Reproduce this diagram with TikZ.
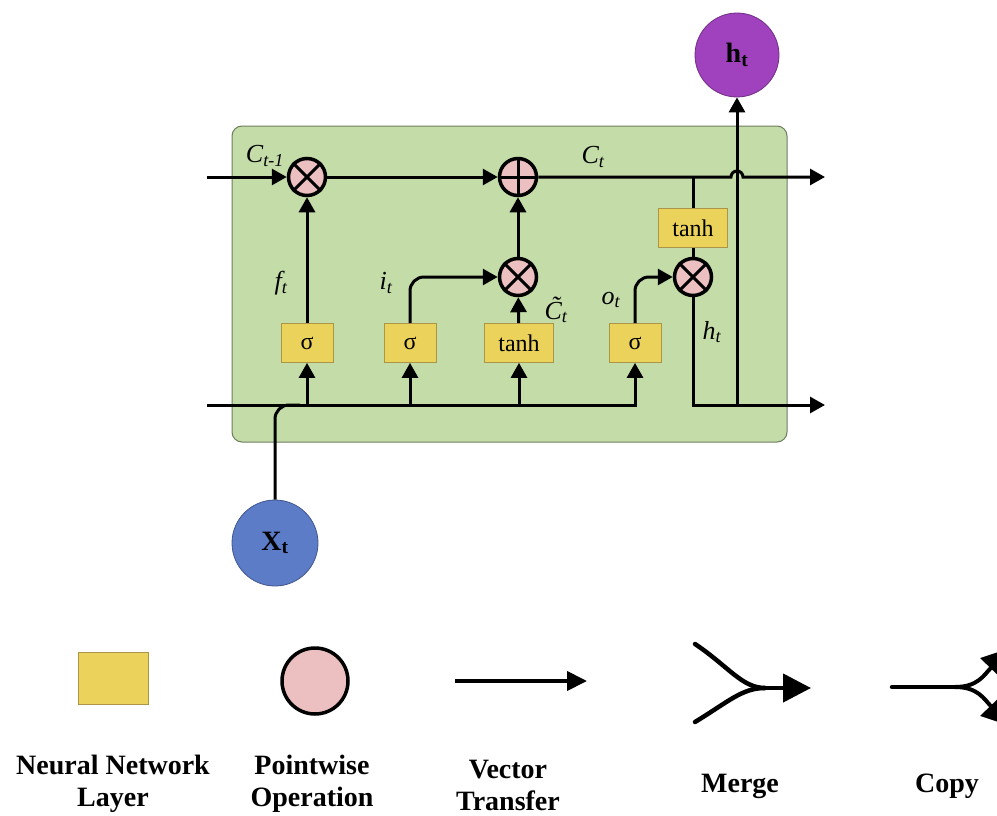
\documentclass[tikz,border=0pt]{standalone}
\usepackage{fontspec}
\setmainfont{Liberation Serif}
\usetikzlibrary{arrows.meta}
\definecolor{cellgreen}{RGB}{196,220,168}
\definecolor{cellborder}{RGB}{110,125,95}
\definecolor{nnyellow}{RGB}{235,210,90}
\definecolor{nnyellowd}{RGB}{170,150,70}
\definecolor{oppink}{RGB}{236,192,192}
\definecolor{hpurple}{RGB}{160,65,190}
\definecolor{xblue}{RGB}{92,124,200}
\tikzset{
  x=1pt,y=-1pt,
  conn/.style={line width=3pt,draw=black},
  arr/.style={-{Triangle[length=15pt,width=16pt]}},
  layer/.style={rectangle,fill=nnyellow,draw=nnyellowd,line width=0.8pt,minimum height=39pt,inner sep=0pt,font=\fontsize{24}{28}\selectfont},
  op/.style={circle,fill=oppink,draw=black,line width=3.5pt,minimum size=37pt,inner sep=0pt},
  lbl/.style={font=\fontsize{26}{30}\selectfont\itshape,inner sep=0pt},
  leg/.style={font=\fontsize{28}{32}\selectfont\bfseries,align=center,inner sep=0pt},
}
\newcommand{\mulmark}[1]{\draw[line width=3pt] (#1.45) -- (#1.225) (#1.135) -- (#1.315);}
\newcommand{\addmark}[1]{\draw[line width=3pt] (#1.north) -- (#1.south) (#1.east) -- (#1.west);}
\begin{document}
\begin{tikzpicture}
\useasboundingbox (0,0) rectangle (997,816);
% cell
\draw[fill=cellgreen,draw=cellborder,line width=1pt,rounded corners=10pt] (232,126) rectangle (787,442);

% coordinates
\coordinate (cin) at (207,177);
\coordinate (cout) at (825,177);
\coordinate (hin) at (207,405);
\coordinate (hout) at (825,405);
\coordinate (cbr) at (693,177);
\coordinate (hv) at (737,405);
\coordinate (xm) at (300,405);

% nodes
\node[op] (fx) at (307,177) {};
\node[op] (pl) at (518,177) {};
\node[op] (ix) at (518,277) {};
\node[op] (ox) at (693,277) {};
\node[layer,minimum width=52pt] (s1) at (307,343) {σ};
\node[layer,minimum width=52pt] (s2) at (410,343) {σ};
\node[layer,minimum width=69pt] (tn1) at (519,343) {tanh};
\node[layer,minimum width=52pt] (s4) at (635,343) {σ};
\node[layer,minimum width=69pt] (tn2) at (693,228) {tanh};
\node[circle,fill=hpurple,draw=hpurple!70!black,line width=0.8pt,minimum size=84pt,inner sep=0pt,font=\fontsize{28}{32}\selectfont\bfseries] (ht) at (737,55) {h\textsubscript{t}};
\node[circle,fill=xblue,draw=xblue!70!black,line width=0.8pt,minimum size=86pt,inner sep=0pt,font=\fontsize{28}{32}\selectfont\bfseries] (xt) at (275,543) {X\textsubscript{t}};

% cell state line
\draw[conn,arr] (cin) -- (fx);
\draw[conn,arr] (fx) -- (pl);
\draw[conn,arr] (pl) -- (731,177) arc (180:360:6) -- (cout);
\draw[conn] (cbr) -- (tn2);
\draw[conn] (tn2) -- (ox);

% gates
\draw[conn,arr] (s1) -- (fx);
\draw[conn,arr] (ix) -- (pl);
\draw[conn,arr] (tn1) -- (ix);
\draw[conn,arr,rounded corners=14pt] (s2.north) |- (ix);
\draw[conn,arr,rounded corners=14pt] (s4.north) |- (ox);

% hidden input line
\draw[conn,arr] (hin) -| (s4);
\draw[conn,arr] (s1 |- hin) -- (s1);
\draw[conn,arr] (s2 |- hin) -- (s2);
\draw[conn,arr] (tn1 |- hin) -- (tn1);
\draw[conn,rounded corners=14pt] (xt) |- (xm);

% output
\draw[conn,arr] (ox) |- (hout);
\draw[conn,arr] (hv) -- (ht);

% marks
\mulmark{fx}
\mulmark{ix}
\mulmark{ox}
\addmark{pl}

% labels
\node[lbl] (lc1) at (265,156) {C\textsubscript{t-1}};
\node[lbl] (lc2) at (593,157) {C\textsubscript{t}};
\node[lbl] (lf) at (281,283) {f\textsubscript{t}};
\node[lbl] (li) at (386,283) {i\textsubscript{t}};
\node[lbl] (lct) at (556,310) {\~{C}\textsubscript{t}};
\node[lbl] (lo) at (611,300) {o\textsubscript{t}};
\node[lbl] (lh) at (712,332) {h\textsubscript{t}};

% legend
\node[layer,minimum width=70pt,minimum height=52pt] (legnn) at (113,678) {};
\node[op,line width=3.5pt,minimum size=66pt] (legpw) at (315,681) {};
\coordinate (va) at (455,681);
\coordinate (vb) at (587,681);
\draw[line width=4pt,-{Triangle[length=20pt,width=19pt]}] (va) -- (vb);

\coordinate (m1) at (695,644);
\coordinate (m2) at (695,722);
\coordinate (mc) at (765,688);
\coordinate (me) at (811,688);
\draw[line width=4.5pt,line cap=round] (m1) .. controls (728,666) and (742,688) .. (mc);
\draw[line width=4.5pt,line cap=round] (m2) .. controls (728,702) and (742,688) .. (mc);
\draw[line width=4.5pt,-{Triangle[length=28pt,width=28pt]}] (760,688) -- (me);

\coordinate (c0) at (892,687);
\coordinate (cs) at (955,687);
\coordinate (cu) at (1010,648);
\coordinate (cd) at (1010,726);
\draw[line width=4.5pt,line cap=round] (c0) -- (cs);
\draw[line width=4pt,-{Triangle[length=28pt,width=28pt]}] (cs) .. controls (978,687) and (984,675) .. (cu);
\draw[line width=4pt,-{Triangle[length=28pt,width=28pt]}] (cs) .. controls (978,687) and (984,699) .. (cd);

\node[leg] (tnn) at (113,784) {Neural Network\\Layer};
\node[leg] (tpw) at (312,784) {Pointwise\\Operation};
\node[leg] (tvt) at (508,785) {Vector\\Transfer};
\node[leg] (tmg) at (740,786) {Merge};
\node[leg] (tcp) at (947,786) {Copy};
\end{tikzpicture}
\end{document}
